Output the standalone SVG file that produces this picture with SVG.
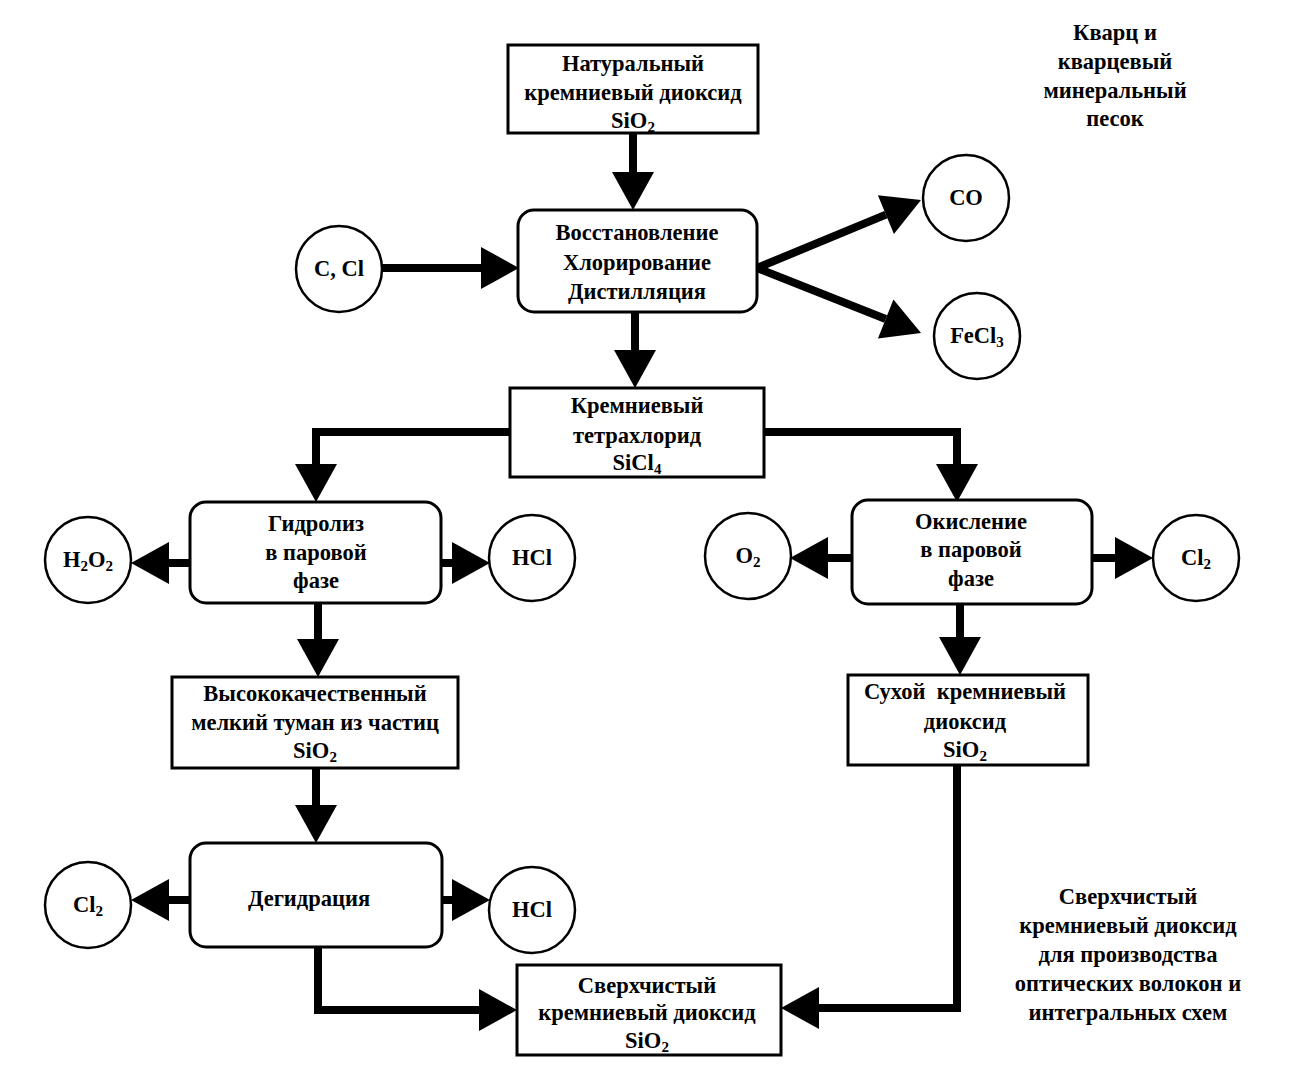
<svg xmlns="http://www.w3.org/2000/svg" width="1315" height="1081" viewBox="0 0 1315 1081">
<style>
text{font-family:"Liberation Serif","Times New Roman",serif;font-weight:bold;font-size:22.5px;fill:#000;text-anchor:middle}
.b{fill:#fff;stroke:#000;stroke-width:3}
.c{fill:#fff;stroke:#000;stroke-width:2.5}
.l{fill:none;stroke:#000;stroke-width:8;marker-end:url(#ah)}
.s{font-size:15px}
</style>
<defs>
<marker id="ah" markerUnits="userSpaceOnUse" markerWidth="38" markerHeight="42" refX="0" refY="21" orient="auto" overflow="visible">
<path d="M0,0 L38,21 L0,42 z" fill="#000"/>
</marker>
</defs>
<g id="connectors">
<path class="l" d="M633,133 V172"/>
<path class="l" d="M381,268 H481"/>
<path class="l" d="M757,268 L885.9,214.6"/>
<path class="l" d="M757,268 L885.7,319"/>
<path class="l" d="M635,312 V350"/>
<path class="l" d="M510,432 H316 V464"/>
<path class="l" d="M764,432 H957 V464"/>
<path class="l" d="M190,563 H169"/>
<path class="l" d="M441,563 H452"/>
<path class="l" d="M852,558 H828"/>
<path class="l" d="M1092,558 H1115"/>
<path class="l" d="M318,603 V639"/>
<path class="l" d="M960,604 V637"/>
<path class="l" d="M316,768 V805"/>
<path class="l" d="M190,900 H169"/>
<path class="l" d="M442,900 H452"/>
<path class="l" d="M318,947 V1010 H479"/>
<path class="l" d="M957,765 V1008 H819"/>
</g>
<g id="n-natural"><rect class="b" x="508" y="45" width="250" height="88"/>
<text x="633" y="71">Натуральный</text><text x="633" y="100">кремниевый диоксид</text><text x="633" y="128">SiO<tspan class="s" dy="4">2</tspan></text></g>
<g id="n-reduction"><rect class="b" x="518" y="210" width="239" height="102" rx="16"/>
<text x="637" y="240">Восстановление</text><text x="637" y="270">Хлорирование</text><text x="637" y="299">Дистилляция</text></g>
<g id="n-ccl"><circle class="c" cx="339" cy="269" r="43"/><text x="339" y="276">C, Cl</text></g>
<g id="n-co"><circle class="c" cx="966" cy="198" r="43"/><text x="966" y="205">CO</text></g>
<g id="n-fecl3"><circle class="c" cx="977" cy="336" r="43"/><text x="977" y="343">FeCl<tspan class="s" dy="4">3</tspan></text></g>
<g id="n-sicl4"><rect class="b" x="510" y="388" width="254" height="89"/>
<text x="637" y="413">Кремниевый</text><text x="637" y="443">тетрахлорид</text><text x="637" y="470">SiCl<tspan class="s" dy="4">4</tspan></text></g>
<g id="n-hydrolysis"><rect class="b" x="190" y="502" width="251" height="101" rx="16"/>
<text x="316" y="531">Гидролиз</text><text x="316" y="560">в паровой</text><text x="316" y="588">фазе</text></g>
<g id="n-h2o2"><circle class="c" cx="88" cy="560" r="43"/><text x="88" y="567">H<tspan class="s" dy="4">2</tspan><tspan dy="-4">O</tspan><tspan class="s" dy="4">2</tspan></text></g>
<g id="n-hcl1"><circle class="c" cx="532" cy="558" r="43"/><text x="532" y="565">HCl</text></g>
<g id="n-oxidation"><rect class="b" x="852" y="500" width="240" height="104" rx="16"/>
<text x="971" y="529">Окисление</text><text x="971" y="557">в паровой</text><text x="971" y="586">фазе</text></g>
<g id="n-o2"><circle class="c" cx="748" cy="556" r="43"/><text x="748" y="563">O<tspan class="s" dy="4">2</tspan></text></g>
<g id="n-cl2a"><circle class="c" cx="1196" cy="558" r="43"/><text x="1196" y="565">Cl<tspan class="s" dy="4">2</tspan></text></g>
<g id="n-mist"><rect class="b" x="172" y="677" width="286" height="91"/>
<text x="315" y="701">Высококачественный</text><text x="315" y="730">мелкий туман из частиц</text><text x="315" y="758">SiO<tspan class="s" dy="4">2</tspan></text></g>
<g id="n-dry"><rect class="b" x="848" y="675" width="240" height="90"/>
<text x="965" y="699">Сухой&#160;&#160;кремниевый</text><text x="965" y="729">диоксид</text><text x="965" y="757">SiO<tspan class="s" dy="4">2</tspan></text></g>
<g id="n-dehydration"><rect class="b" x="190" y="843" width="252" height="104" rx="16"/>
<text x="309" y="906">Дегидрация</text></g>
<g id="n-cl2b"><circle class="c" cx="88" cy="905" r="43"/><text x="88" y="912">Cl<tspan class="s" dy="4">2</tspan></text></g>
<g id="n-hcl2"><circle class="c" cx="532" cy="910" r="43"/><text x="532" y="917">HCl</text></g>
<g id="n-pure"><rect class="b" x="517" y="965" width="264" height="90"/>
<text x="647" y="993">Сверхчистый</text><text x="647" y="1020">кремниевый диоксид</text><text x="647" y="1048">SiO<tspan class="s" dy="4">2</tspan></text></g>
<g id="t-quartz"><text x="1115" y="40">Кварц и</text><text x="1115" y="69">кварцевый</text><text x="1115" y="98">минеральный</text><text x="1115" y="126">песок</text></g>
<g id="t-purpose"><text x="1128" y="904">Сверхчистый</text><text x="1128" y="933">кремниевый диоксид</text><text x="1128" y="962">для производства</text><text x="1128" y="991">оптических волокон и</text><text x="1128" y="1020">интегральных схем</text></g>
</svg>
